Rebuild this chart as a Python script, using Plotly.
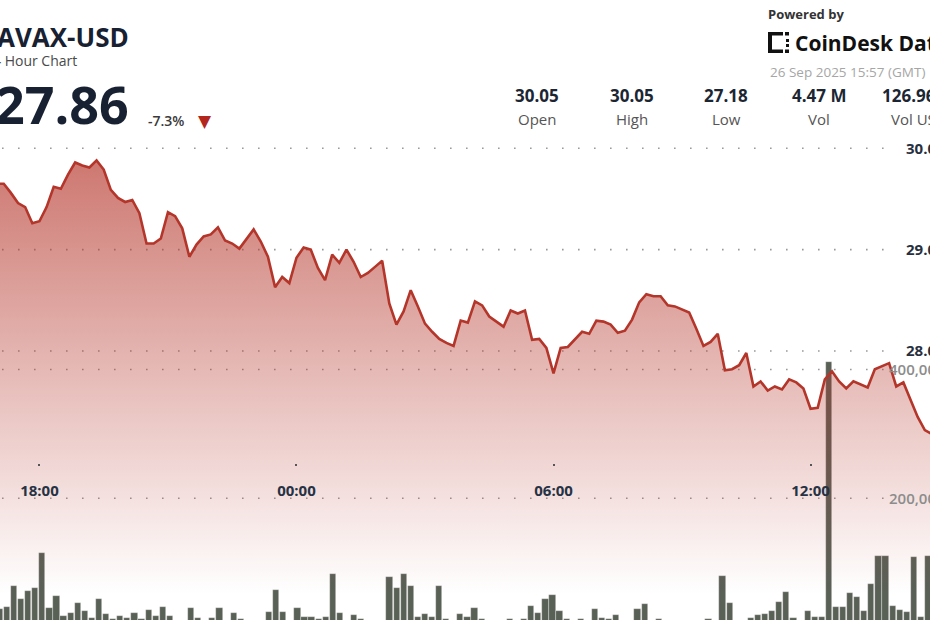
import pandas as pd
import plotly.graph_objects as go

# ---------------- data (10-minute samples from 2025-09-25 17:00) ----------------
START = pd.Timestamp("2025-09-25 17:00")
price = [29.65, 29.65, 29.56, 29.46, 29.42, 29.26, 29.28, 29.42, 29.62, 29.60,
         29.74, 29.86, 29.83, 29.81, 29.88, 29.79, 29.59, 29.51, 29.47, 29.49,
         29.36, 29.06, 29.06, 29.11, 29.37, 29.33, 29.21, 28.93, 29.05, 29.13,
         29.15, 29.22, 29.09, 29.06, 29.01, 29.11, 29.20, 29.08, 28.93, 28.63,
         28.73, 28.67, 28.92, 29.02, 29.00, 28.82, 28.70, 28.95, 28.87, 29.00,
         28.88, 28.73, 28.77, 28.83, 28.89, 28.47, 28.26, 28.39, 28.60, 28.44,
         28.27, 28.19, 28.12, 28.08, 28.05, 28.30, 28.28, 28.49, 28.45, 28.34,
         28.29, 28.24, 28.40, 28.37, 28.40, 28.11, 28.12, 28.03, 27.78, 28.03,
         28.04, 28.12, 28.19, 28.17, 28.30, 28.29, 28.26, 28.18, 28.20, 28.31,
         28.48, 28.56, 28.54, 28.54, 28.45, 28.44, 28.41, 28.38, 28.22, 28.05,
         28.09, 28.17, 27.81, 27.82, 27.86, 27.98, 27.65, 27.70, 27.61, 27.65,
         27.62, 27.72, 27.69, 27.63, 27.43, 27.44, 27.72, 27.80, 27.70, 27.63,
         27.70, 27.67, 27.64, 27.82, 27.85, 27.88, 27.65, 27.69, 27.52, 27.35,
         27.22, 27.18]

volume_k = [28, 31, 64, 43, 56, 60, 115, 29, 48, 17,
            22, 38, 25, 14, 43, 20, 13, 17, 14, 22,
            12, 27, 17, 31, 17, 6, 5, 29, 14, 6,
            14, 30, 5, 22, 13, 6, 5, 7, 24, 57,
            24, 7, 29, 15, 15, 13, 15, 83, 21, 8,
            19, 12, 6, 8, 7, 78, 61, 83, 63, 16,
            20, 16, 63, 13, 8, 20, 16, 29, 13, 9,
            7, 9, 12, 8, 12, 32, 21, 43, 50, 25,
            12, 8, 13, 9, 28, 14, 12, 18, 9, 8,
            28, 35, 10, 13, 7, 6, 8, 5, 9, 7,
            12, 8, 80, 38, 9, 10, 14, 18, 20, 25,
            39, 55, 14, 10, 25, 15, 16, 411, 31, 31,
            53, 47, 25, 67, 111, 110, 33, 26, 24, 109,
            15, 110]

times = [START + pd.Timedelta(minutes=10 * i) for i in range(len(price))]
volume = [v * 1000 for v in volume_k]

price_ticks = [28, 29, 30]
price_ticktext = ["28.00", "29.00", "30.00"]
vol_ticks = [200000, 400000]
vol_ticktext = ["200,000", "400,000"]
time_ticks = ["2025-09-25 18:00", "2025-09-26 00:00", "2025-09-26 06:00", "2025-09-26 12:00"]
time_ticktext = ["18:00", "00:00", "06:00", "12:00"]

stat_values = ["30.05", "30.05", "27.18", "4.47 M", "126.96 M"]
stat_labels = ["Open", "High", "Low", "Vol", "Vol USD"]

# ---------------- figure ----------------
W, H = 930, 620
def px(x):
    return x / W
def py(y):
    return 1 - y / H

NAVY = "#172131"
FONT = "Open Sans"

fig = go.Figure()

fig.add_trace(go.Bar(
    x=times, y=volume, xaxis="x", yaxis="y",
    width=525000,
    marker=dict(color="#596056", line=dict(color="rgba(255,255,255,0.55)", width=0.6)),
    hoverinfo="skip", showlegend=False,
))

fig.add_trace(go.Scatter(
    x=times, y=price, xaxis="x2", yaxis="y2",
    mode="lines",
    line=dict(color="#b4352a", width=2.6),
    fill="tozeroy",
    fillgradient=dict(type="vertical", start=25.6, stop=29.95,
                      colorscale=[[0, "rgba(181,53,42,0)"], [1, "rgba(181,53,42,0.68)"]]),
    hoverinfo="skip", showlegend=False,
))

shapes = []
for v in price_ticks:
    shapes.append(dict(type="line", xref="paper", yref="y2", x0=px(2), x1=px(893), y0=v, y1=v,
                       line=dict(color="#9a9a9a", width=1.6, dash="1.6px,14.4px"), layer="below"))
for v in vol_ticks:
    shapes.append(dict(type="line", xref="paper", yref="y", x0=px(2), x1=px(886), y0=v, y1=v,
                       line=dict(color="#9a9a9a", width=1.6, dash="1.6px,14.4px"), layer="below"))

# CoinDesk logo glyph (decorative)
LOGO = "#111111"
for (x0, y0, x1, y1) in [(768, 32, 772, 53), (768, 32, 783, 35.5), (768, 49.5, 783, 53),
                         (785, 32, 789, 35.5), (785, 49.5, 789, 53),
                         (786, 39, 789, 42), (786, 44, 789, 47)]:
    shapes.append(dict(type="rect", xref="paper", yref="paper", x0=px(x0), x1=px(x1),
                       y0=py(y1), y1=py(y0), fillcolor=LOGO, line=dict(width=0)))

ann = []
def text(x, y, s, size, color, weight=400, anchor="left", family=FONT):
    ann.append(dict(x=px(x), y=py(y), xref="paper", yref="paper", text=s, showarrow=False,
                    xanchor=anchor, yanchor="middle",
                    font=dict(family=family, size=size, color=color, weight=weight)))

text(-5, 37, "AVAX-USD", 26, NAVY, 700)
text(-17, 60, "24 Hour Chart", 14, "#4a4a4a", 400)
text(-7, 104, "27.86", 52, NAVY, 700)
text(146, 120, "-7.3%", 14, "#3a3a3a", 600)
text(196, 121, "▼", 17, "#b3261e", 400, family="DejaVu Sans")

for cx, v, lab in zip([537, 632, 726, 819, 919], stat_values, stat_labels):
    text(cx, 96, v, 17, "#1c2633", 700, anchor="center")
    text(cx, 119, lab, 15, "#555555", 400, anchor="center")

text(766, 14, "Powered by", 13, "#333333", 700)
text(793, 43, "CoinDesk Data", 21, "#111111", 700)
text(768, 72, "26 Sep 2025 15:57 (GMT)", 13.5, "#a6a6a6", 400)

# axis ranges
x2_range = [START + pd.Timedelta(minutes=3.4 / 7.14 * 10), START + pd.Timedelta(minutes=933.4 / 7.14 * 10)]
x_range = [START + pd.Timedelta(minutes=0.2 / 7.086 * 10), START + pd.Timedelta(minutes=930.2 / 7.086 * 10)]

fig.update_layout(
    width=W, height=H,
    margin=dict(l=0, r=0, t=0, b=0, autoexpand=False),
    paper_bgcolor="white", plot_bgcolor="white",
    showlegend=False,
    bargap=0,
    shapes=shapes, annotations=ann,
    xaxis=dict(range=x_range, visible=False, fixedrange=True, automargin=False),
    xaxis2=dict(range=x2_range, overlaying="x", anchor="free", position=py(463),
                tickvals=time_ticks, ticktext=time_ticktext,
                ticks="outside", ticklen=2, tickwidth=2, tickcolor="#555",
                ticklabelstandoff=12, automargin=False,
                tickfont=dict(family=FONT, size=15, color="#263244", weight=700),
                showgrid=False, zeroline=False, showline=False),
    yaxis=dict(range=[10874, 973980], side="right", anchor="free", position=px(888),
               tickvals=vol_ticks, ticktext=vol_ticktext, ticks="", automargin=False,
               tickfont=dict(family=FONT, size=15, color="#8c8c8c", weight=600),
               showgrid=False, zeroline=False, showline=False),
    yaxis2=dict(range=[25.346, 31.463], overlaying="y", side="right", anchor="free",
                position=px(905), tickvals=price_ticks, ticktext=price_ticktext, ticks="",
                automargin=False,
                tickfont=dict(family=FONT, size=15, color="#27303f", weight=700),
                showgrid=False, zeroline=False, showline=False),
)

fig.write_html("out.html", config={"displayModeBar": False},
               post_script="document.body.style.margin='0';document.body.style.overflow='hidden';")
